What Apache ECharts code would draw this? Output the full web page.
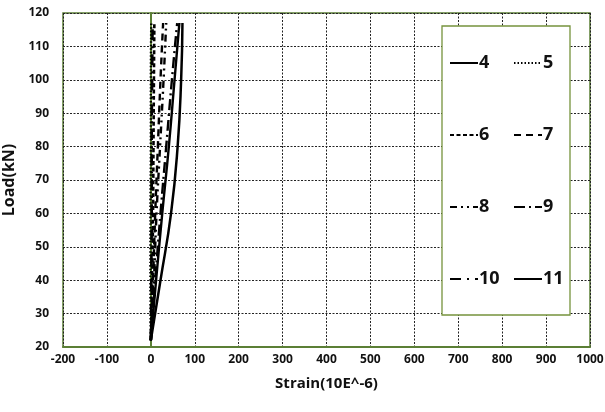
<!DOCTYPE html>
<html><head><meta charset="utf-8">
<script src="https://cdn.jsdelivr.net/npm/echarts@6/dist/echarts.min.js"></script>
<style>html,body{margin:0;padding:0;background:#fff}#c{width:605px;height:412px}</style>
</head><body><div id="c"></div>
<script>
// Load values (kN) shared by each strain gauge trace
const loads = [22, 40, 60, 80, 100, 117];
// Strain (10E-6) for each gauge at those loads
const gauge4  = [0, 12, 26, 41, 54, 65];
const gauge5  = [0, -1, -1, 0, 0, 1];
const gauge6  = [0, 3, 5, 6, 7, 8];
const gauge7  = [0, 5, 10, 16, 22, 28];
const gauge8  = [0, 7, 13, 21, 29, 35];
const gauge9  = [0, 10, 22, 35, 48, 60];
const gauge10 = [0, 1, 2, 2, 3, 4];
const gauge11 = [0, 22, 46, 61, 69, 72];
const seriesNames = ['4','5','6','7','8','9','10','11'];
const xTicks = [-200,-100,0,100,200,300,400,500,600,700,800,900,1000];
const yTicks = [20,30,40,50,60,70,80,90,100,110,120];

const gauges = [gauge4,gauge5,gauge6,gauge7,gauge8,gauge9,gauge10,gauge11];
const dashes = ['solid',[1.5,2],[4,2.5],[7,5],[7,4,2,4,2,4],[11,4,2,4],[11,6,2,6],'solid'];
const widths = [2.4,2.4,2.6,2.4,2.4,2.4,2.6,2.5];

const chart = echarts.init(document.getElementById('c'));
const font = '"Open Sans", Lato, sans-serif';
const green = '#5b7f35';
const legendCommon = {orient:'vertical',top:53,padding:0,itemGap:52,itemWidth:28,itemHeight:14,z:60,
  itemStyle:{opacity:0},
  textStyle:{fontFamily:font,fontWeight:'bold',fontSize:18,color:'#111',lineHeight:20,padding:[0,0,0,-4]}};
chart.setOption({
  animation:false,
  grid:{left:63,right:15,top:13,bottom:65,outerBoundsMode:'none',containLabel:false,
    show:true,borderColor:green,borderWidth:1.5,backgroundColor:'#fff'},
  xAxis:{type:'value',min:xTicks[0],max:xTicks[xTicks.length-1],interval:100,
    name:'Strain(10E^-6)',nameLocation:'middle',nameGap:29,
    nameTextStyle:{fontFamily:font,fontWeight:'bold',fontSize:15,color:'#111'},
    axisLine:{show:true,lineStyle:{color:green,width:2}},axisTick:{show:false},
    axisLabel:{fontFamily:font,fontWeight:'bold',fontSize:12,color:'#111',margin:7,formatter:v=>String(v)},
    splitLine:{show:true,lineStyle:{color:'#222',type:[2,1.5],width:1}}},
  yAxis:{type:'value',min:yTicks[0],max:yTicks[yTicks.length-1],interval:10,
    name:'Load(kN)',nameLocation:'middle',nameGap:40,
    nameTextStyle:{fontFamily:font,fontWeight:'bold',fontSize:16,color:'#111'},
    axisLine:{show:true,lineStyle:{color:green,width:2}},axisTick:{show:false},
    axisLabel:{fontFamily:font,fontWeight:'bold',fontSize:12,color:'#111',margin:14,formatter:v=>String(v)},
    splitLine:{show:true,lineStyle:{color:'#222',type:[2,1.5],width:1}}},
  graphic:[{type:'rect',shape:{x:442,y:26,width:128,height:289},z:50,
    style:{fill:'#fff',stroke:'#76933c',lineWidth:1.3}}],
  legend:[
    Object.assign({data:['4','6','8','10'],left:449},legendCommon),
    Object.assign({data:['5','7','9','11'],left:513},legendCommon)
  ],
  series: gauges.map((g,i)=>({
    name:seriesNames[i],type:'line',symbol:'none',smooth:true,
    lineStyle:{color:'#000',width:widths[i],type:dashes[i]},
    itemStyle:{color:'#000'},
    data:g.map((s,j)=>[s,loads[j]])
  }))
});
</script></body></html>
